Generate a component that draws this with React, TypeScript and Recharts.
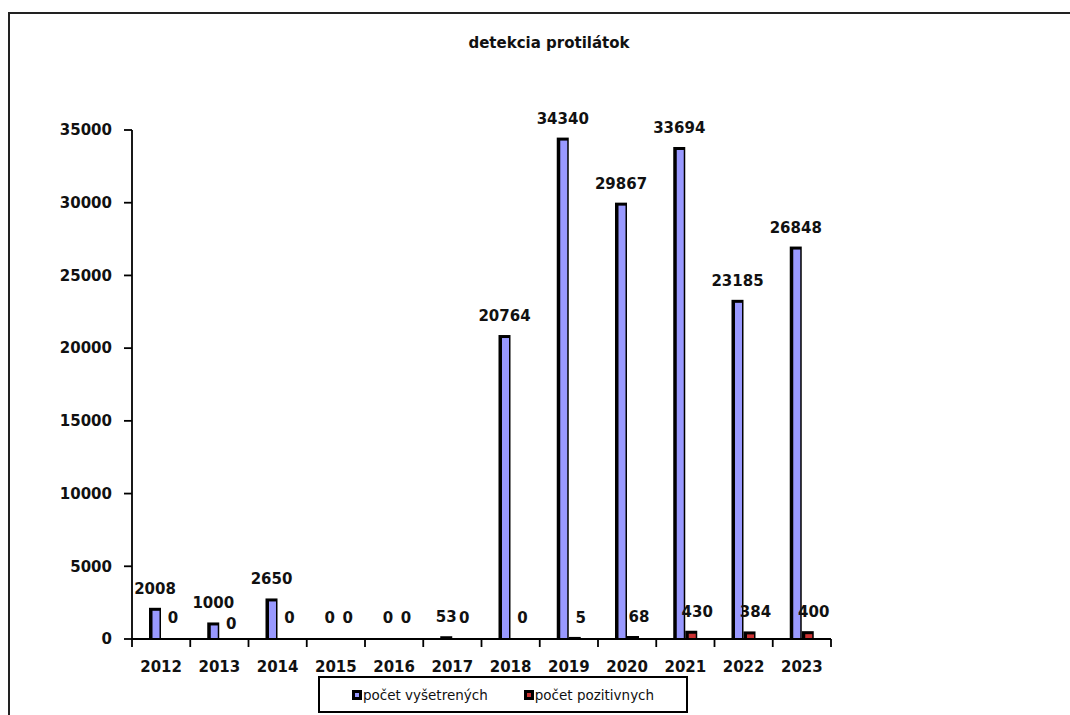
import React from "react";
import { BarChart, Bar, XAxis, YAxis, LabelList } from "recharts";

const years = ["2012", "2013", "2014", "2015", "2016", "2017", "2018", "2019", "2020", "2021", "2022", "2023"];
const vysetrenych = [2008, 1000, 2650, 0, 0, 53, 20764, 34340, 29867, 33694, 23185, 26848];
const pozitivnych = [0, 0, 0, 0, 0, 0, 0, 5, 68, 430, 384, 400];
const yTicks = [0, 5000, 10000, 15000, 20000, 25000, 30000, 35000];
const seriesNames = ["počet vyšetrených", "počet pozitivnych"];
const seriesColors = ["#9999ff", "#cc3333"];
const title = "detekcia protilátok";

const data = years.map((year, i) => ({ year, v: vysetrenych[i], p: pozitivnych[i] }));

const FONT = "'DejaVu Sans', Verdana, sans-serif";
const W = 1070;
const H = 715;
const M = { top: 130, right: 239, left: 0, bottom: 0 };
const Y_AXIS_W = 132;
const X_AXIS_H = 76;
const Y_MAX = 35000;
const BAND = (W - M.right - Y_AXIS_W) / years.length;
const PLOT_BOTTOM = H - M.bottom - X_AXIS_H;
const PLOT_H = PLOT_BOTTOM - M.top;
const BAR_W = 12;
const LABEL_UP = 16;
const RED_DX = 6;
const DIGIT_W = 9.7;

// Excel-ish bar: black frame, thicker on the left, colored inside
function OutlinedBar(props: any) {
  const { x, y, width, height, fill } = props;
  if (!height || height <= 0) return null;
  const top = y - 2;
  const h = Math.max(height + 2, 2.5);
  const innerH = height - 1;
  return (
    <g>
      <rect x={x} y={top} width={width} height={h} fill="#000" />
      {innerH > 1 && (
        <rect x={x + 3.5} y={y + 1} width={width - 5} height={innerH} fill={fill} />
      )}
    </g>
  );
}

const labelText = (x: number, y: number, value: any) => (
  <text x={x} y={y} textAnchor="middle" fontFamily={FONT} fontWeight="bold" fontSize={15} fill="#111">
    {value}
  </text>
);

function BlueLabel(props: any) {
  const { x, y, width, value } = props;
  return labelText(x + width / 2, y - LABEL_UP, value);
}

// red labels sit a bit right of their bar; pushed down when they would hit the blue label
function RedLabel(props: any) {
  const { x, y, width, value, index } = props;
  const cx = x + width / 2 + RED_DX;
  let baseline = y - LABEL_UP;
  const other = vysetrenych[index];
  if (other != null) {
    const otherBase = PLOT_BOTTOM - (other / Y_MAX) * PLOT_H - LABEL_UP;
    const otherCx = x - BAR_W / 2;
    const halfW = (String(other).length * DIGIT_W + String(value).length * DIGIT_W) / 2;
    if (Math.abs(cx - otherCx) < halfW && baseline - otherBase > 0 && baseline - otherBase < LABEL_UP) {
      baseline = otherBase + 21;
    }
  }
  return labelText(cx, baseline, value);
}

// category label with Excel-style tick marks on the category boundaries
function YearTick(props: any) {
  const { x, y, payload, index } = props;
  const left = x - BAND / 2;
  const right = x + BAND / 2;
  return (
    <g>
      <line x1={left} y1={y} x2={left} y2={y + 8} stroke="#000" strokeWidth={1.8} />
      {index === years.length - 1 && (
        <line x1={right} y1={y} x2={right} y2={y + 8} stroke="#000" strokeWidth={1.8} />
      )}
      <text x={x} y={y + 33} textAnchor="middle" fontFamily={FONT} fontWeight="bold" fontSize={15} fill="#111">
        {payload.value}
      </text>
    </g>
  );
}

export default function App() {
  return (
    <div style={{ position: "absolute", left: 0, top: 0, width: W, height: H, overflow: "hidden", background: "#fff" }}>
      <div style={{ position: "absolute", left: 8, top: 12, width: 1100, height: 760, border: "2px solid #222" }} />
      <div
        style={{
          position: "absolute", left: 349, top: 34, width: 400, textAlign: "center",
          fontFamily: FONT, fontWeight: "bold", fontSize: 15, color: "#111",
        }}
      >
        {title}
      </div>

      <div style={{ position: "absolute", left: 0, top: 0 }}>
        <BarChart width={W} height={H} data={data} margin={M} barGap={0} barSize={BAR_W}>
          <XAxis
            dataKey="year"
            height={X_AXIS_H}
            stroke="#000"
            strokeWidth={1.8}
            tickLine={false}
            tickSize={0}
            tickMargin={0}
            tick={<YearTick />}
            interval={0}
          />
          <YAxis
            width={Y_AXIS_W}
            domain={[0, Y_MAX]}
            ticks={yTicks}
            tickSize={8}
            tickMargin={12}
            stroke="#000"
            strokeWidth={1.8}
            tick={{ fontFamily: FONT, fontWeight: "bold", fontSize: 15, fill: "#111" }}
          />
          <Bar dataKey="v" name={seriesNames[0]} fill={seriesColors[0]} shape={OutlinedBar} isAnimationActive={false}>
            <LabelList dataKey="v" content={BlueLabel} />
          </Bar>
          <Bar dataKey="p" name={seriesNames[1]} fill={seriesColors[1]} shape={OutlinedBar} isAnimationActive={false}>
            <LabelList dataKey="p" content={RedLabel} />
          </Bar>
        </BarChart>
      </div>

      <div
        style={{
          position: "absolute", left: 318, top: 676, width: 366, height: 33,
          border: "2px solid #000", display: "flex", alignItems: "center", justifyContent: "center", gap: 36,
          fontFamily: FONT, fontSize: 13.5, color: "#111",
        }}
      >
        {seriesNames.map((name, i) => (
          <div key={name} style={{ display: "flex", alignItems: "center" }}>
            <span
              style={{
                display: "inline-block", width: 4, height: 4, border: "3px solid #000",
                background: seriesColors[i], marginRight: 1,
              }}
            />
            <span>{name}</span>
          </div>
        ))}
      </div>
    </div>
  );
}
